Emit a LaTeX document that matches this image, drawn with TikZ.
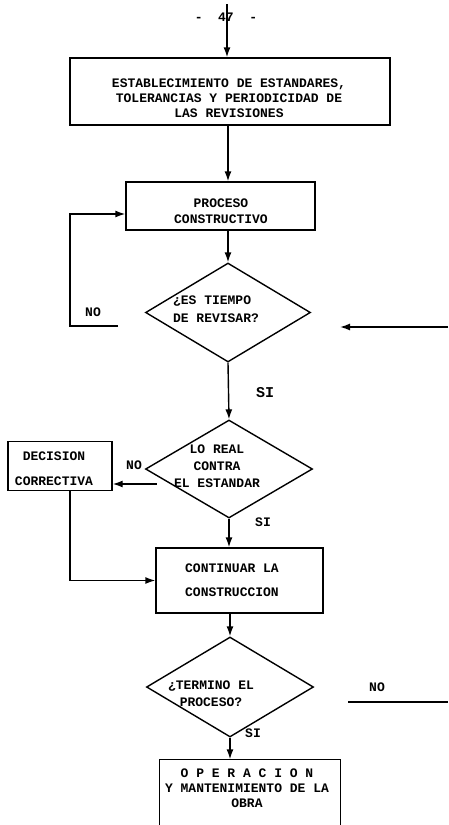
\documentclass[tikz,border=0pt]{standalone}
\usepackage{fontspec}
\newfontfamily\mono{Liberation Mono}
\usetikzlibrary{arrows.meta,shapes.geometric,calc}
\begin{document}
\begin{tikzpicture}[x=1pt,y=-1pt,
  line width=1.4pt,
  every node/.style={font=\mono\bfseries\fontsize{13}{15}\selectfont},
  box/.style={draw,rectangle,inner sep=0pt},
  dia/.style={draw,diamond,inner sep=0pt},
  txt/.style={align=center,inner sep=0pt},
  big/.style={inner sep=0pt,font=\mono\bfseries\fontsize{15}{18}\selectfont},
  arr/.style={-{Latex[length=10pt,width=7pt]}}]
\fill[white] (0,0) rectangle (448,825);
\useasboundingbox (0,0) rectangle (448,825);

% page number
\node[inner sep=0pt,font=\mono\bfseries\fontsize{13}{15}\selectfont] (pg) at (226,17) {-\ \ 47\ \ -};
\coordinate (top) at (227,4);

% boxes and decisions
\node[box,minimum width=320,minimum height=67] (b1) at (230,91.5) {};
\node[txt] (t1) at (229,98) {ESTABLECIMIENTO DE ESTANDARES,\\TOLERANCIAS Y PERIODICIDAD DE\\LAS REVISIONES};

\node[box,minimum width=189,minimum height=48] (b2) at (220.5,206) {};
\node[txt] (t2) at (221,211) {PROCESO\\[1pt]CONSTRUCTIVO};

\node[dia,minimum width=165,minimum height=99] (d1) at (228,312.5) {};
\node[txt,align=left] (t3) at (216,309) {¿ES TIEMPO\\[3pt]DE REVISAR?};

\node[dia,minimum width=167,minimum height=98] (d2) at (229,469) {};
\node[txt] (t4) at (217,466) {LO REAL\\[2pt]CONTRA\\[2pt]EL ESTANDAR};

\node[box,minimum width=104,minimum height=49] (dec) at (60,466) {};
\node[txt] (t5) at (54,468.5) {DECISION\\[10pt]CORRECTIVA};

\node[box,minimum width=167,minimum height=65] (b3) at (239.5,580.5) {};
\node[txt] (t6) at (232,580) {CONTINUAR LA\\[9pt]CONSTRUCCION};

\node[dia,minimum width=167,minimum height=100] (d3) at (230,687) {};
\node[txt] (t7) at (211,694) {¿TERMINO EL\\[2pt]PROCESO?};

\node[inner sep=0pt,minimum width=180,minimum height=64] (b4) at (250,792) {};
\draw (b4.south west) -- (b4.north west) -- (b4.north east) -- (b4.south east);
\node[txt] (t8) at (247,788) {O P E R A C I O N\\Y MANTENIMIENTO DE LA\\OBRA};

% labels
\node[inner sep=0pt] (no1) at (93,312) {NO};
\node[big] (si1) at (265,393) {SI};
\node[inner sep=0pt] (no2) at (134,465) {NO};
\node[inner sep=0pt] (si2) at (263,522) {SI};
\node[inner sep=0pt] (si3) at (253,733) {SI};
\node[inner sep=0pt] (no3) at (377,687) {NO};

% free ends
\coordinate (lp) at (118,326);
\coordinate (rin) at (448,327);
\coordinate (rend) at (340,327);
\coordinate (r3a) at (348,702);
\coordinate (r3b) at (448,702);
\coordinate (nostart) at ($(d2.west)+(12,15)$);

% connectors
\draw[arr] (top) -- (top |- b1.north);
\draw[arr] (b1.south -| d1.north) -- (b2.north -| d1.north);
\draw[arr] (b2.south -| d1.north) -- (d1.north);
\draw[arr] (lp) -- (70,326) |- ($(b2.west)+(0,8)$);
\draw[arr] (rin) -- (rend);
\draw[arr] (d1.south) -- (d2.north);
\draw[arr] (nostart) -- (nostart -| dec.east);
\draw[arr] ($(dec.south)+(10,0)$) |- (b3.west);
\draw[arr] (d2.south) -- (d2.south |- b3.north);
\draw[arr] (b3.south -| d3.north) -- (d3.north);
\draw[arr] (d3.south) -- (d3.south |- b4.north);
\draw (r3a) -- (r3b);
\end{tikzpicture}
\end{document}
